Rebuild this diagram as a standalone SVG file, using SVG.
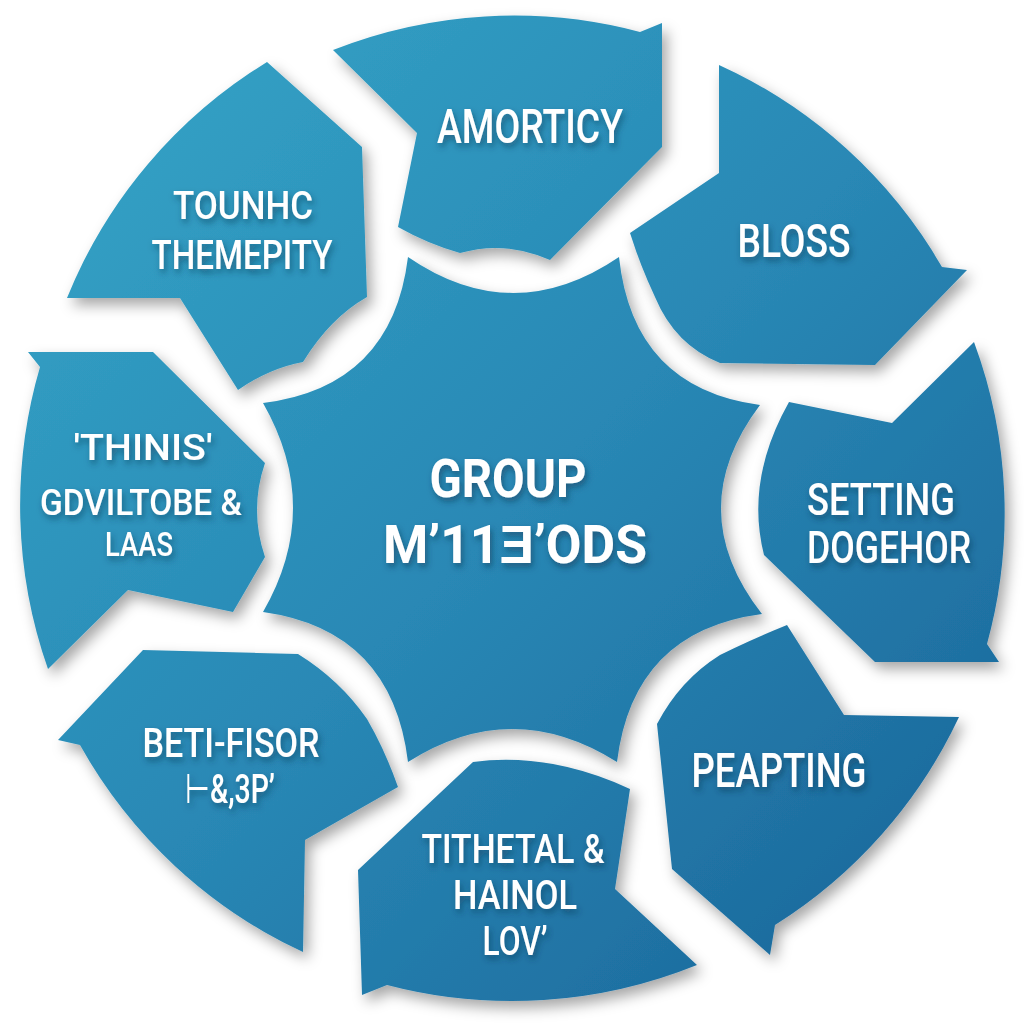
<svg xmlns="http://www.w3.org/2000/svg" width="1024" height="1024" viewBox="0 0 1024 1024">
<defs>
<linearGradient id="blue" gradientUnits="userSpaceOnUse" x1="120" y1="120" x2="900" y2="900">
<stop offset="0" stop-color="#32a0c4"/>
<stop offset="0.5" stop-color="#2988b5"/>
<stop offset="1" stop-color="#1c6a9d"/>
</linearGradient>
<filter id="sh" x="-20%" y="-20%" width="140%" height="140%">
<feDropShadow dx="5" dy="7" stdDeviation="7" flood-color="#000" flood-opacity="0.35"/>
</filter>
<filter id="tsh" x="-10%" y="-30%" width="120%" height="160%">
<feDropShadow dx="2" dy="4" stdDeviation="3" flood-color="#0a3550" flood-opacity="0.55"/>
</filter>
<style>
.seg{fill:url(#blue);filter:url(#sh)}
.lbl{font-family:Roboto,"Liberation Sans",sans-serif;font-weight:500;fill:#ffffff;text-anchor:middle;filter:url(#tsh)}
.big{font-weight:700}
</style>
</defs>
<rect width="1024" height="1024" fill="#ffffff"/>
<g id="connectors"></g>
<g id="seg-tounhc">
<path class="seg" d="M 67 298 A 493 493 0 0 1 267 62 L 362 147 L 367 297 Q 330 318 303 362 Q 270 368 238 390 L 180 298 Z"/>
<text class="lbl" font-size="38" x="243" y="219" textLength="140" lengthAdjust="spacingAndGlyphs">TOUNHC</text>
<text class="lbl" font-size="41" x="242" y="269" textLength="181" lengthAdjust="spacingAndGlyphs">THEMEPITY</text>
</g>
<g id="seg-amorticy">
<path class="seg" d="M 333 50 A 493 493 0 0 1 640 32 L 662 23 L 662 147 L 550 260 Q 505 240 460 253 Q 428 244 398 227 L 417 133 Z"/>
<text class="lbl" font-size="48" x="530" y="143" textLength="186" lengthAdjust="spacingAndGlyphs">AMORTICY</text>
</g>
<g id="seg-bloss">
<path class="seg" d="M 719 65 A 493 493 0 0 1 942 267 L 967 270 L 875 365 L 720 363 Q 675 345 655 297 Q 640 265 630 233 L 719 173 Z"/>
<text class="lbl" font-size="47" x="794" y="257" textLength="113" lengthAdjust="spacingAndGlyphs">BLOSS</text>
</g>
<g id="seg-setting">
<path class="seg" d="M 974 342 L 892 423 L 789 402 Q 745 480 764 555 L 875 662 L 999 662 L 987 644 A 493 493 0 0 0 974 342 Z"/>
<text class="lbl" font-size="44" x="881" y="515" textLength="148" lengthAdjust="spacingAndGlyphs">SETTING</text>
<text class="lbl" font-size="44" x="889" y="563" textLength="164" lengthAdjust="spacingAndGlyphs">DOGEHOR</text>
</g>
<g id="seg-peapting">
<path class="seg" d="M 787 625 L 844 715 L 959 717 A 493 493 0 0 1 775 925 L 770 955 L 672 869 L 657 724 Q 680 680 720 655 Q 750 640 787 625 Z"/>
<text class="lbl" font-size="48" x="779" y="787" textLength="175" lengthAdjust="spacingAndGlyphs">PEAPTING</text>
</g>
<g id="seg-tithetal">
<path class="seg" d="M 473 762 Q 550 752 630 789 L 615 889 L 697 965 A 493 493 0 0 1 387 985 L 362 995 L 358 870 Z"/>
<text class="lbl" font-size="40" x="513" y="863" textLength="183" lengthAdjust="spacingAndGlyphs">TITHETAL &amp;</text>
<text class="lbl" font-size="40" x="515" y="909" textLength="124" lengthAdjust="spacingAndGlyphs">HAINOL</text>
<text class="lbl" font-size="40" x="515" y="955" textLength="65" lengthAdjust="spacingAndGlyphs">LOV’</text>
</g>
<g id="seg-betifisor">
<path class="seg" d="M 58 740 L 143 650 L 298 654 Q 340 680 367 719 Q 385 750 398 787 L 305 840 L 303 952 A 493 493 0 0 1 80 745 Z"/>
<text class="lbl" font-size="41" x="231" y="757" textLength="177" lengthAdjust="spacingAndGlyphs">BETI-FISOR</text>
<text class="lbl" font-size="41" x="230" y="803" textLength="90" lengthAdjust="spacingAndGlyphs">⊢&amp;,3P’</text>
</g>
<g id="seg-thinis">
<path class="seg" d="M 40 367 L 28 352 L 153 352 L 265 463 Q 249 510 265 557 L 233 612 L 128 590 L 48 669 A 493 493 0 0 1 40 367 Z"/>
<text class="lbl" font-size="36" x="143" y="460" textLength="139" lengthAdjust="spacingAndGlyphs">'THINIS'</text>
<text class="lbl" font-size="36" x="141" y="515" textLength="202" lengthAdjust="spacingAndGlyphs">GDVILTOBE &amp;</text>
<text class="lbl" font-size="34" x="139" y="556" textLength="68" lengthAdjust="spacingAndGlyphs">LAAS</text>
</g>
<g id="center">
<path class="seg" d="M 408 257 Q 513 329 619 257 Q 633 388 760 405 Q 681 510 762 614 Q 633 631 617 762 Q 512 696 408 762 Q 392 630 263 612 Q 323 508 263 403 Q 392 387 408 257 Z"/>
<text class="lbl big" font-size="54" x="508" y="497" textLength="157" lengthAdjust="spacingAndGlyphs">GROUP</text>
<text class="lbl big" font-size="54" x="515" y="563" textLength="264" lengthAdjust="spacingAndGlyphs">M’11Ǝ’ODS</text>
</g>
</svg>
